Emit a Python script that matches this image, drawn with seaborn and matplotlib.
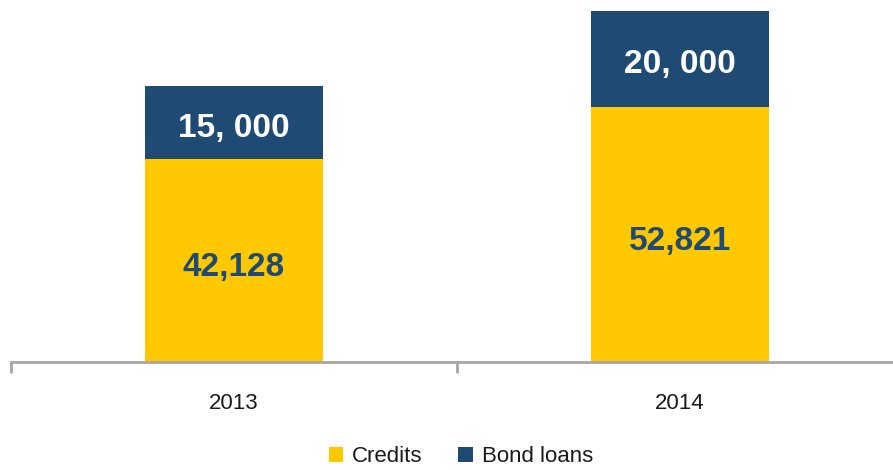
import matplotlib
matplotlib.use("Agg")
import matplotlib.pyplot as plt
from matplotlib import font_manager
import seaborn as sns
import pandas as pd

years = ["2013", "2014"]
credits = [42128, 52821]
bond_loans = [15000, 20000]
credit_labels = ["42,128", "52,821"]
bond_labels = ["15, 000", "20, 000"]

GOLD = "#FFC800"
NAVY = "#1F4A73"
AXIS_GREY = "#A6A6A6"

sns.set_theme(style="white")
names = {f.name for f in font_manager.fontManager.ttflist}
family = "Liberation Sans Narrow" if "Liberation Sans Narrow" in names else "Liberation Sans"
plt.rcParams["font.family"] = [family, "DejaVu Sans"]
narrow = family.endswith("Narrow")
value_size = 27 if narrow else 24
text_size = 19 if narrow else 16

df = pd.DataFrame({"year": years, "Credits": credits, "Bond loans": bond_loans})
df["total"] = df["Credits"] + df["Bond loans"]

fig = plt.figure(figsize=(8.93, 4.70), dpi=100)
ax = fig.add_axes([11 / 893, 108 / 470, 892 / 893, 362 / 470])

# Stacked bars: draw totals first (navy), then credits (gold) in front
sns.barplot(data=df, x="year", y="total", color=NAVY, width=0.4, ax=ax,
            saturation=1, linewidth=0, label="Bond loans")
sns.barplot(data=df, x="year", y="Credits", color=GOLD, width=0.4, ax=ax,
            saturation=1, linewidth=0, label="Credits")

handles, labels = ax.get_legend_handles_labels()
if ax.get_legend() is not None:
    ax.get_legend().remove()

ax.set_ylim(0, 75000)
ax.set_xlim(-0.5, 1.5)
ax.set_xlabel("")
ax.set_ylabel("")
ax.set_yticks([])
for s in ["top", "right", "left"]:
    ax.spines[s].set_visible(False)
ax.spines["bottom"].set_color(AXIS_GREY)
ax.spines["bottom"].set_linewidth(2)

ax.set_xticks([-0.5, 0.5, 1.5], minor=True)
ax.tick_params(axis="x", which="minor", length=8, width=2, color=AXIS_GREY,
               direction="out", bottom=True)
ax.tick_params(axis="x", which="major", length=0, pad=22, labelsize=text_size,
               labelcolor="#1a1a1a")

for i in range(len(years)):
    ax.annotate(credit_labels[i], (i, credits[i] / 2), xytext=(0, -5),
                textcoords="offset points", ha="center", va="center",
                fontsize=value_size, fontweight="bold", color=NAVY)
    ax.annotate(bond_labels[i], (i, credits[i] + bond_loans[i] / 2),
                xytext=(0, -4), textcoords="offset points", ha="center",
                va="center", fontsize=value_size, fontweight="bold",
                color="white")

order = [labels.index("Credits"), labels.index("Bond loans")]
leg = fig.legend([handles[k] for k in order], [labels[k] for k in order],
                 loc="center", bbox_to_anchor=(461 / 893, 1 - 457 / 470),
                 ncol=2, frameon=False, fontsize=text_size, handlelength=0.65,
                 handleheight=0.65, handletextpad=0.4, columnspacing=1.6)
for t in leg.get_texts():
    t.set_color("#1a1a1a")

fig.savefig("out.png", dpi=100)
